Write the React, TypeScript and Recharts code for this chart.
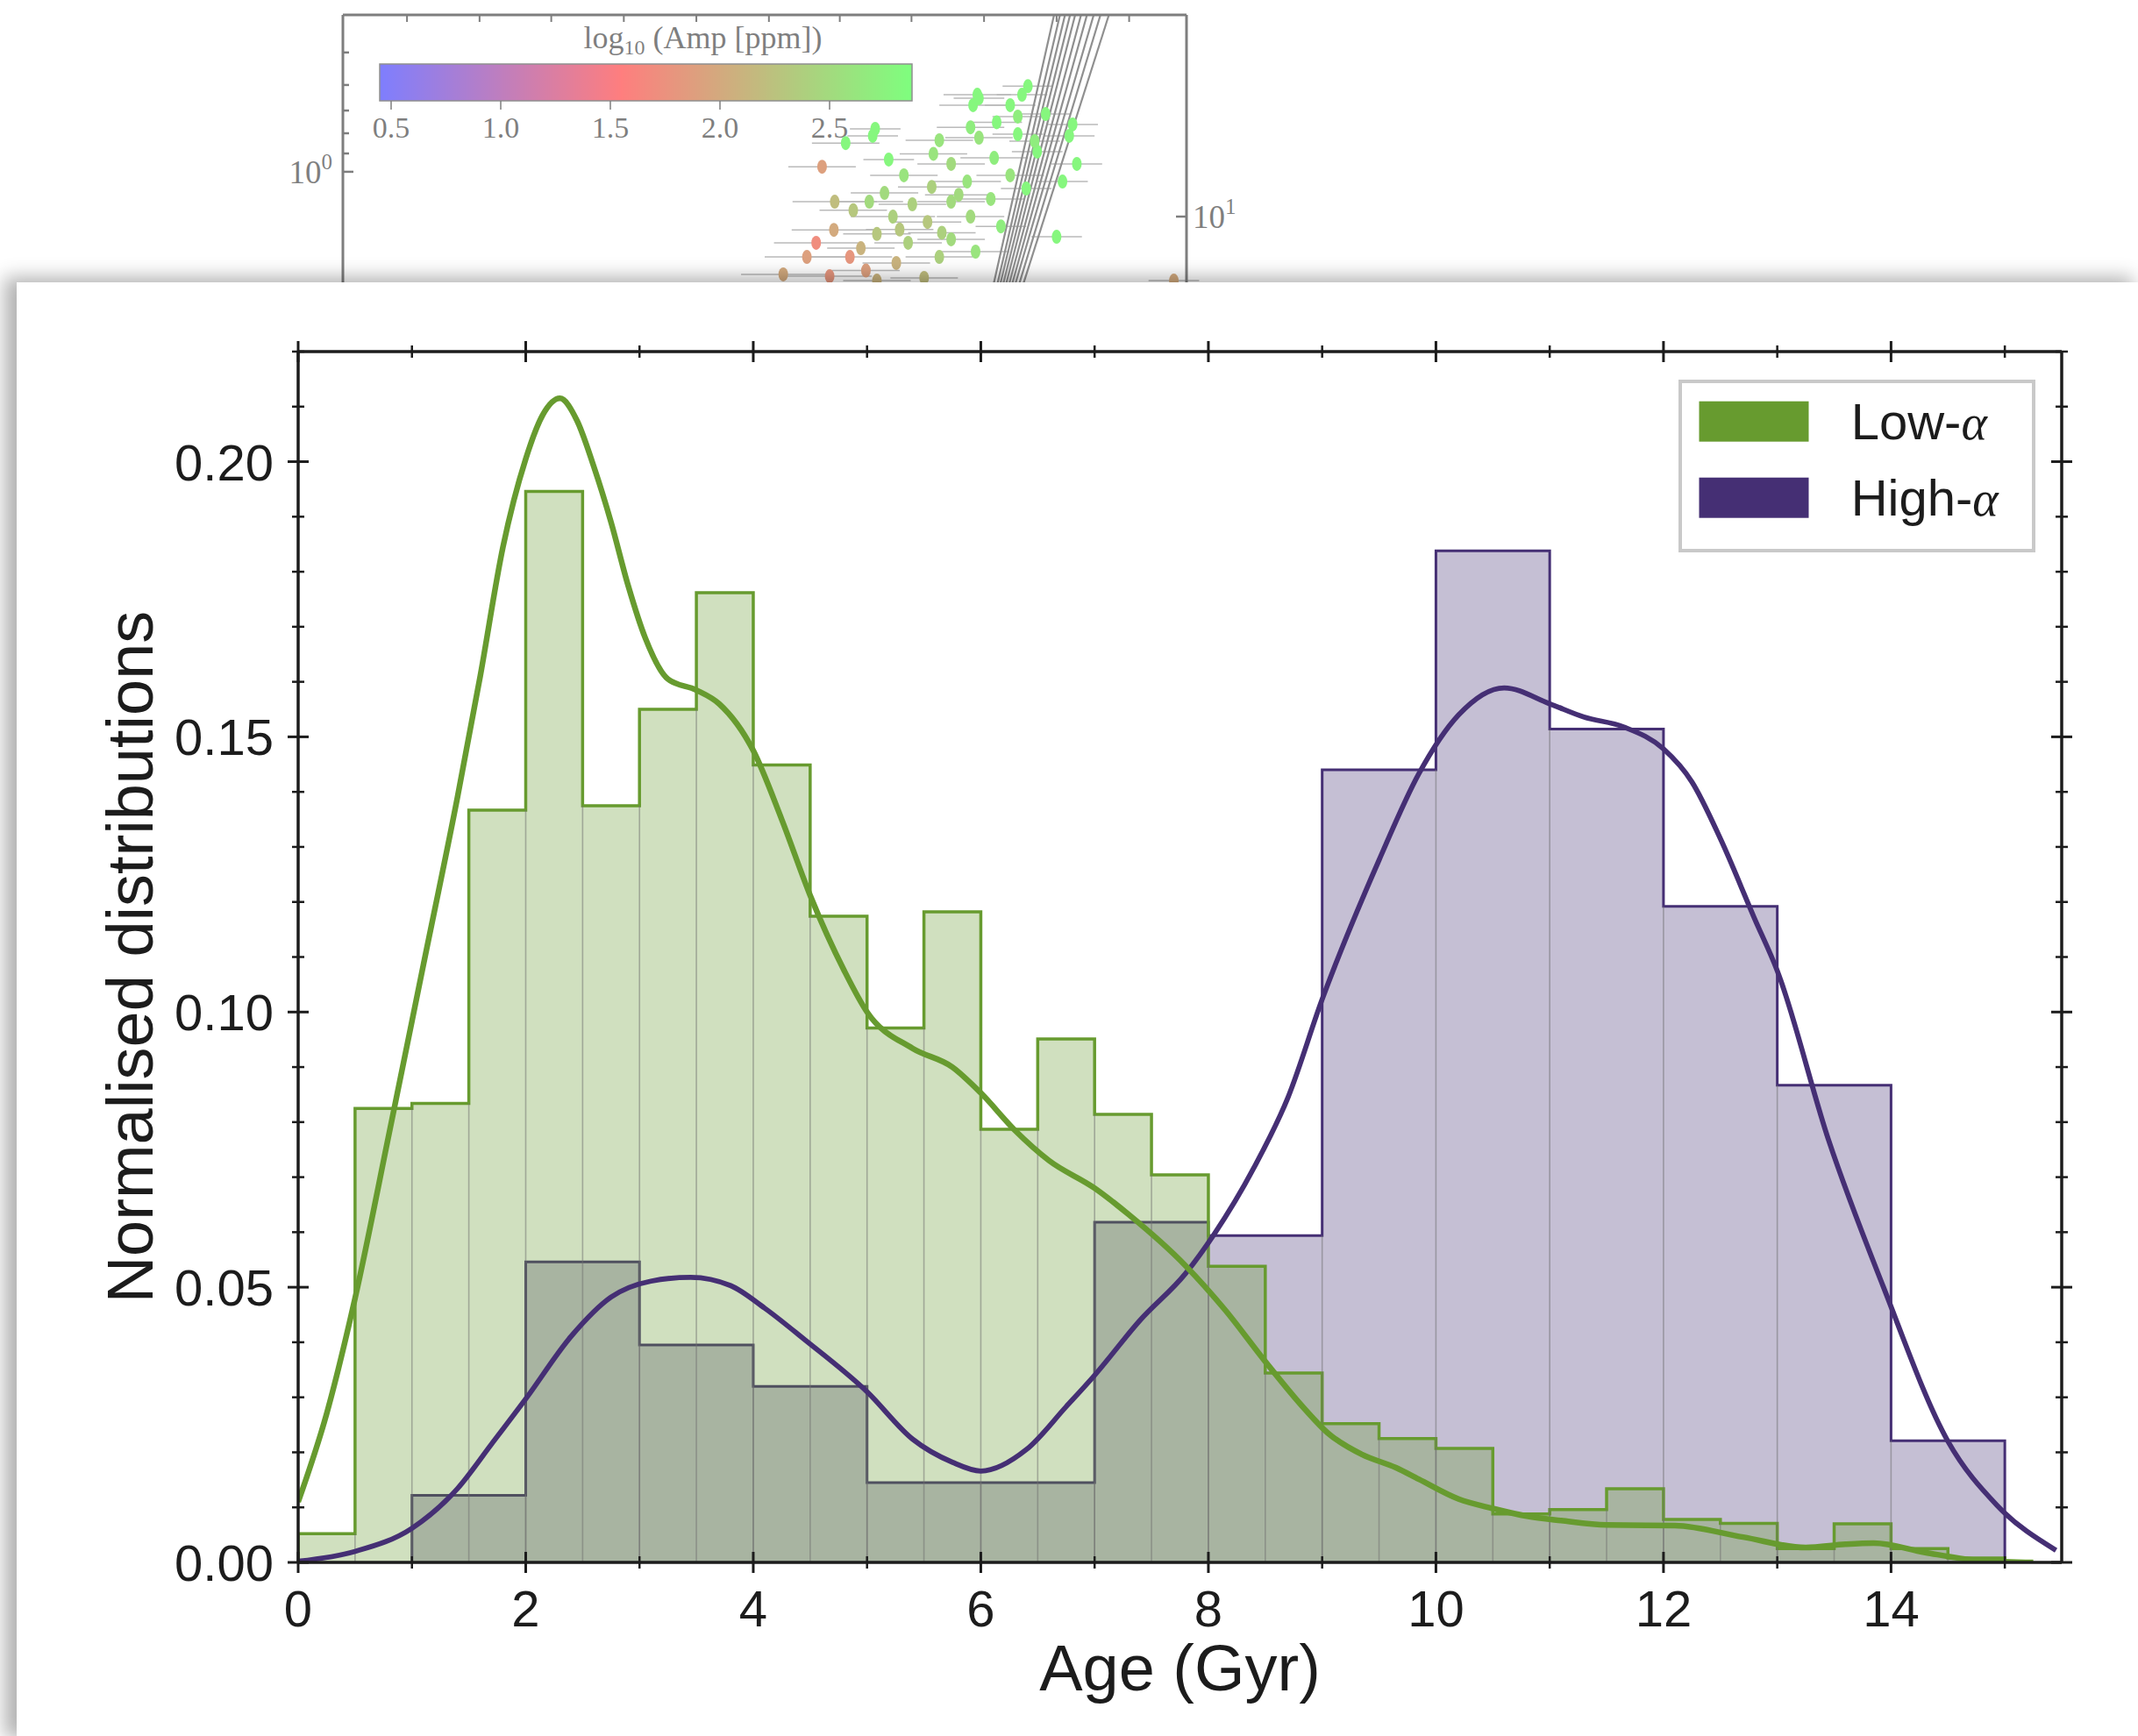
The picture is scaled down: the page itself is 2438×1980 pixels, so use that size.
import React from "react";
import {
  Area,
  ComposedChart,
  ErrorBar,
  Legend,
  Line,
  ReferenceArea,
  ReferenceLine,
  Scatter,
  XAxis,
  YAxis,
} from "recharts";

const SANS = '"Liberation Sans", Arial, Helvetica, sans-serif';
const SERIF = '"Liberation Serif", "DejaVu Serif", serif';
const GREEN = "#679b2f";
const PURPLE = "#452f74";
const INK = "#1c1c1c";

// ---------- main panel: age distributions ----------
const lowAlphaBinStart = 0;
const lowAlphaBinWidth = 0.5;
const lowAlphaHist = [
  0.0052, 0.0825, 0.0834, 0.1367, 0.1946, 0.1375, 0.155, 0.1762, 0.1449, 0.1174,
  0.0971, 0.1182, 0.0787, 0.0951, 0.0814, 0.0704, 0.0538, 0.0344, 0.0252, 0.0225,
  0.0207, 0.0088, 0.0096, 0.0134, 0.0078, 0.0071, 0.0025, 0.007, 0.0025, 0.0008,
];

const highAlphaBinStart = 1;
const highAlphaBinWidth = 1;
const highAlphaHist = [
  0.0122, 0.0546, 0.0395, 0.032, 0.0145, 0.0145, 0.0618, 0.0594, 0.144, 0.1838,
  0.1514, 0.1192, 0.0867, 0.0221,
];

// kernel density curves, [age, density]
const lowAlphaKde: [number, number][] = [
  [0, 0.011], [0.25, 0.027], [0.5, 0.048], [0.8, 0.078], [1.1, 0.1085], [1.4, 0.139],
  [1.6, 0.161], [1.8, 0.1845], [2.0, 0.2005], [2.15, 0.2085], [2.3, 0.2115], [2.45, 0.2075],
  [2.6, 0.199], [2.75, 0.189], [2.9, 0.1775], [3.05, 0.168], [3.25, 0.1605], [3.5, 0.1585],
  [3.7, 0.156], [4.0, 0.1475], [4.25, 0.135], [4.5, 0.1212], [4.8, 0.1075], [5.0, 0.1],
  [5.4, 0.0934], [5.75, 0.09], [6.0, 0.0853], [6.3, 0.0785], [6.6, 0.073], [7.0, 0.068],
  [7.3, 0.0632], [7.8, 0.0539], [8.15, 0.0458], [8.5, 0.0365], [8.85, 0.0278], [9.05, 0.0235],
  [9.35, 0.0196], [9.65, 0.0172], [9.85, 0.0151], [10.2, 0.0115], [10.5, 0.0098], [10.8, 0.0084],
  [11.1, 0.0076], [11.5, 0.0068], [12.1, 0.0067], [12.7, 0.0046], [13.25, 0.0027], [13.6, 0.0033],
  [13.85, 0.0035], [14.3, 0.0018], [14.75, 0.0004], [15.25, 0.0],
];

const highAlphaKde: [number, number][] = [
  [0, 0.0002], [0.5, 0.002], [1.0, 0.0062], [1.4, 0.0134], [1.7, 0.0215], [2.0, 0.0297],
  [2.4, 0.0411], [2.75, 0.0482], [3.1, 0.0511], [3.45, 0.0518], [3.8, 0.0503], [4.1, 0.0462],
  [4.45, 0.0405], [5.0, 0.031], [5.4, 0.0224], [5.75, 0.0182], [6.0, 0.0166], [6.4, 0.0205],
  [6.75, 0.0283], [7.0, 0.034], [7.4, 0.044], [7.8, 0.0525], [8.05, 0.0596], [8.4, 0.0717],
  [8.7, 0.0845], [9.0, 0.1023], [9.5, 0.1276], [9.85, 0.1433], [10.2, 0.154], [10.6, 0.1589],
  [11.0, 0.156], [11.3, 0.1536], [11.65, 0.1518], [12.0, 0.1478], [12.25, 0.1418], [12.5, 0.1315],
  [12.8, 0.117], [13.0, 0.1075], [13.45, 0.0768], [13.93, 0.0502], [14.5, 0.022], [14.93, 0.0104],
  [15.45, 0.0022],
];

const ageTicks = [0, 1, 2, 3, 4, 5, 6, 7, 8, 9, 10, 11, 12, 13, 14, 15];
const densityTicks = [
  0, 0.01, 0.02, 0.03, 0.04, 0.05, 0.06, 0.07, 0.08, 0.09, 0.1, 0.11,
  0.12, 0.13, 0.14, 0.15, 0.16, 0.17, 0.18, 0.19, 0.2, 0.21, 0.22,
];
const legendNames = ["Low-", "High-"];
const legendColors = [GREEN, PURPLE];

// ---------- background figure fragment (mostly hidden by the card) ----------
const ampTicks = [0.5, 1.0, 1.5, 2.0, 2.5];
const ampStops = [0.448, 1.55, 2.876];
const ampRgb = [
  [0, 0, 255],
  [255, 0, 0],
  [0, 255, 0],
];
const fragTopTicks = [7.6, 16.2, 24.7, 33.3, 41.9, 50.5, 58.9, 67.4, 76.0, 84.6, 93.2];
const fragLeftTicks = [50.3, 56.1, 62.5, 69.7, 77.8, 88.1];
const fragRightTicks = [36.1];
// [x, y, x-error, log10 amp]
const fragStars: [number, number, number, number][] = [
  [81.2, 77.4, 3, 2.8], [75.2, 74.7, 4, 2.8], [80.5, 74.7, 3, 2.8], [74.7, 71.4, 4, 2.8],
  [79.1, 71.4, 3, 2.8], [83.3, 68.6, 3, 2.8], [80.0, 67.8, 3, 2.7], [86.5, 65.3, 3, 2.8],
  [63.1, 63.9, 3, 2.8], [74.4, 64.4, 4, 2.7], [59.6, 59.4, 4, 2.8], [75.4, 61.1, 4, 2.6],
  [80.0, 62.2, 3, 2.8], [86.1, 61.7, 3, 2.8], [70.7, 60.3, 4, 2.6], [64.7, 54.2, 3, 2.8],
  [56.8, 51.9, 4, 1.9], [87.0, 52.8, 3, 2.8], [66.5, 49.2, 4, 2.6], [72.1, 52.8, 4, 2.5],
  [77.2, 54.7, 4, 2.7], [82.3, 56.7, 3, 2.8], [79.1, 49.2, 4, 2.6], [85.3, 47.2, 3, 2.8],
  [64.2, 43.6, 4, 2.5], [69.8, 45.5, 4, 2.4], [74.0, 47.2, 4, 2.6], [58.3, 40.8, 5, 2.2],
  [62.4, 40.8, 4, 2.5], [67.5, 40.0, 4, 2.4], [72.1, 40.8, 4, 2.5], [76.8, 41.7, 4, 2.6],
  [60.5, 38.1, 4, 2.3], [65.2, 36.1, 5, 2.4], [69.3, 34.4, 4, 2.3], [74.4, 36.1, 4, 2.5],
  [58.2, 31.9, 5, 2.0], [63.3, 30.6, 4, 2.3], [56.1, 27.8, 5, 1.7], [61.4, 26.1, 4, 2.1],
  [67.0, 27.8, 4, 2.4], [72.1, 28.9, 4, 2.5], [55.0, 23.3, 5, 1.9], [60.1, 23.3, 5, 1.8],
  [65.6, 21.4, 4, 2.1], [70.7, 23.3, 4, 2.4], [84.6, 29.7, 3, 2.8], [52.2, 17.8, 5, 2.0],
  [57.7, 17.2, 5, 1.8], [63.3, 15.8, 4, 2.1], [68.9, 16.7, 4, 2.2], [98.5, 15.8, 3, 2.0],
  [62.8, 61.7, 3, 2.8], [75.4, 73.6, 3, 2.8], [77.5, 66.0, 3, 2.8], [82.0, 60.0, 3, 2.7],
  [70.0, 56.0, 4, 2.6], [73.0, 43.0, 4, 2.5], [66.0, 32.0, 4, 2.3], [71.0, 31.0, 4, 2.4],
  [62.0, 19.0, 4, 1.9], [75.0, 25.0, 4, 2.6], [78.0, 33.0, 3, 2.7], [81.0, 45.0, 3, 2.8],
];
// grey model tracks: x at top edge, x at bottom edge
const fragTracks: [number, number][] = [
  [84.3, 75.9], [85.0, 76.3], [85.6, 76.6], [86.2, 76.9], [86.8, 77.2],
  [87.5, 77.5], [88.2, 77.8], [89.0, 78.1], [89.8, 78.5], [90.8, 78.9],
];

// ---------- layout ----------
const CARD_LEFT = 19;
const CARD_TOP = 322;
const CHART_W = 2419;
const CHART_H = 1658;
// plot rectangle inside the card
const PLOT_LEFT = 321;
const PLOT_TOP = 79;
const PLOT_W = 2011;
const PLOT_H = 1381;
// axes get 1px of room each (recharts skips an axis of size 0)
const M = {
  top: PLOT_TOP - 1,
  left: PLOT_LEFT - 1,
  right: CHART_W - PLOT_LEFT - PLOT_W - 1,
  bottom: CHART_H - PLOT_TOP - PLOT_H - 1,
};

const isMajorAge = (v: number) => Math.abs(v / 2 - Math.round(v / 2)) < 1e-6;
const isMajorDensity = (v: number) => Math.abs(v * 20 - Math.round(v * 20)) < 1e-6;

function stepSeries(start: number, width: number, heights: number[]) {
  return [
    { x: start, v: 0 },
    ...heights.map((h, i) => ({ x: start + i * width, v: h })),
    { x: start + heights.length * width, v: 0 },
  ];
}

function innerEdges(start: number, width: number, heights: number[]) {
  const out: { x: number; top: number }[] = [];
  for (let i = 1; i < heights.length; i++) {
    out.push({ x: start + i * width, top: Math.min(heights[i - 1], heights[i]) });
  }
  return out;
}

function ampColor(a: number) {
  let i = 0;
  while (i < ampStops.length - 2 && a > ampStops[i + 1]) i++;
  const t = Math.max(0, Math.min(1, (a - ampStops[i]) / (ampStops[i + 1] - ampStops[i])));
  const c = ampRgb[i].map((c0, k) => Math.round(c0 + (ampRgb[i + 1][k] - c0) * t));
  return `rgb(${c.join(",")})`;
}

const lowStep = stepSeries(lowAlphaBinStart, lowAlphaBinWidth, lowAlphaHist);
const highStep = stepSeries(highAlphaBinStart, highAlphaBinWidth, highAlphaHist);
const lowEdges = innerEdges(lowAlphaBinStart, lowAlphaBinWidth, lowAlphaHist);
const highEdges = innerEdges(highAlphaBinStart, highAlphaBinWidth, highAlphaHist);
const lowCurve = lowAlphaKde.map(([x, v]) => ({ x, v }));
const highCurve = highAlphaKde.map(([x, v]) => ({ x, v }));

// ---------- tick renderers (ticks cross the spines, matplotlib "inout") ----------
function BottomAgeTick(props: any) {
  const { x, y, payload } = props;
  const v = payload.value as number;
  const major = isMajorAge(v);
  const l = major ? 12 : 7;
  return (
    <g>
      <line x1={x} x2={x} y1={y - l} y2={y + l} stroke={INK} strokeWidth={major ? 3 : 2.5} />
      {major && (
        <text x={x} y={y + 73} textAnchor="middle" fontFamily={SANS} fontSize={58} fill={INK}>
          {`${v}`}
        </text>
      )}
    </g>
  );
}

function TopAgeTick(props: any) {
  const { x, y, payload } = props;
  const major = isMajorAge(payload.value);
  const l = major ? 12 : 7;
  return <line x1={x} x2={x} y1={y - l} y2={y + l} stroke={INK} strokeWidth={major ? 3 : 2.5} />;
}

function LeftDensityTick(props: any) {
  const { x, y, payload } = props;
  const v = payload.value as number;
  const major = isMajorDensity(v);
  const l = major ? 12 : 7;
  return (
    <g>
      <line x1={x - l} x2={x + l} y1={y} y2={y} stroke={INK} strokeWidth={major ? 3 : 2.5} />
      {major && (
        <text x={x - 28} y={y + 21} textAnchor="end" fontFamily={SANS} fontSize={58} fill={INK}>
          {v.toFixed(2)}
        </text>
      )}
    </g>
  );
}

function RightDensityTick(props: any) {
  const { x, y, payload } = props;
  const major = isMajorDensity(payload.value);
  const l = major ? 12 : 7;
  return <line x1={x - l} x2={x + l} y1={y} y2={y} stroke={INK} strokeWidth={major ? 3 : 2.5} />;
}

function LegendBox() {
  return (
    <svg width={407} height={197} style={{ display: "block" }}>
      <rect x={2} y={2} width={403} height={193} fill="#fff" stroke="#c9c9c9" strokeWidth={4} />
      {legendNames.map((name, i) => (
        <g key={name}>
          <rect x={23.5} y={24.7 + i * 87} width={125} height={46} fill={legendColors[i]} />
          <text x={196.7} y={68.4 + i * 87} fontFamily={SANS} fontSize={58} fill={INK}>
            {name}
            <tspan fontFamily={SERIF} fontStyle="italic" fontSize={56}>
              α
            </tspan>
          </text>
        </g>
      ))}
    </svg>
  );
}

const axisLine = { stroke: INK, strokeWidth: 3.5 };

function AgeChart() {
  return (
    <ComposedChart width={CHART_W} height={CHART_H} margin={M}>
      <XAxis
        xAxisId={0}
        type="number"
        dataKey="x"
        domain={[0, 15.5]}
        allowDataOverflow
        ticks={ageTicks}
        interval={0}
        height={1}
        tickSize={0}
        tickMargin={0}
        tickLine={false}
        axisLine={axisLine}
        tick={BottomAgeTick}
        label={() => (
          <text
            x={PLOT_LEFT + PLOT_W / 2}
            y={PLOT_TOP + PLOT_H + 146}
            textAnchor="middle"
            fontFamily={SANS}
            fontSize={74}
            fill={INK}
          >
            Age (Gyr)
          </text>
        )}
      />
      <XAxis
        xAxisId="top"
        orientation="top"
        type="number"
        dataKey="x"
        domain={[0, 15.5]}
        allowDataOverflow
        ticks={ageTicks}
        interval={0}
        height={1}
        tickSize={0}
        tickMargin={0}
        tickLine={false}
        axisLine={axisLine}
        tick={TopAgeTick}
      />
      <YAxis
        yAxisId={0}
        type="number"
        domain={[0, 0.22]}
        allowDataOverflow
        ticks={densityTicks}
        interval={0}
        width={1}
        tickSize={0}
        tickMargin={0}
        tickLine={false}
        axisLine={axisLine}
        tick={LeftDensityTick}
        label={() => (
          <text
            x={PLOT_LEFT - 166}
            y={PLOT_TOP + PLOT_H / 2}
            transform={`rotate(-90, ${PLOT_LEFT - 166}, ${PLOT_TOP + PLOT_H / 2})`}
            textAnchor="middle"
            fontFamily={SANS}
            fontSize={74}
            fill={INK}
          >
            Normalised distributions
          </text>
        )}
      />
      <YAxis
        yAxisId="right"
        orientation="right"
        type="number"
        domain={[0, 0.22]}
        allowDataOverflow
        ticks={densityTicks}
        interval={0}
        width={1}
        tickSize={0}
        tickMargin={0}
        tickLine={false}
        axisLine={axisLine}
        tick={RightDensityTick}
      />

      <Area
        data={highStep}
        dataKey="v"
        type="stepAfter"
        stroke={PURPLE}
        strokeWidth={3}
        fill={PURPLE}
        fillOpacity={0.31}
        dot={false}
        activeDot={false}
        isAnimationActive={false}
      />
      <Area
        data={lowStep}
        dataKey="v"
        type="stepAfter"
        stroke={GREEN}
        strokeWidth={3.5}
        fill={GREEN}
        fillOpacity={0.31}
        dot={false}
        activeDot={false}
        isAnimationActive={false}
      />
      {[...highEdges, ...lowEdges].map((e, i) => (
        <ReferenceLine
          key={`edge-${i}`}
          segment={[
            { x: e.x, y: 0 },
            { x: e.x, y: e.top },
          ]}
          stroke="#6f6f6f"
          strokeOpacity={0.5}
          strokeWidth={1.6}
        />
      ))}
      <Line
        data={highCurve}
        dataKey="v"
        type="monotone"
        stroke={PURPLE}
        strokeWidth={5.8}
        dot={false}
        activeDot={false}
        isAnimationActive={false}
      />
      <Line
        data={lowCurve}
        dataKey="v"
        type="monotone"
        stroke={GREEN}
        strokeWidth={6.5}
        dot={false}
        activeDot={false}
        isAnimationActive={false}
      />
      <Line
        xAxisId="top"
        yAxisId="right"
        data={lowCurve}
        dataKey="v"
        stroke="none"
        dot={false}
        activeDot={false}
        legendType="none"
        isAnimationActive={false}
      />
      <Legend
        layout="horizontal"
        align="center"
        verticalAlign="middle"
        content={() => <LegendBox />}
        wrapperStyle={{ left: 1895, top: 111, width: 407, height: 197, lineHeight: 0 }}
      />
    </ComposedChart>
  );
}

// ---------- background fragment ----------
const stars = fragStars.map(([x, y, ex, amp]) => ({ x, y, ex, amp }));
const FM = { top: 9, right: 69, bottom: 10, left: 79 };

function FragTopTick(props: any) {
  const { x, y } = props;
  return <line x1={x} x2={x} y1={y} y2={y + 8} stroke="#000" strokeWidth={2} />;
}

function FragLeftTick(props: any) {
  const { x, y, payload } = props;
  const major = payload.value === fragLeftTicks[0];
  return (
    <g>
      <line x1={x} x2={x + (major ? 12 : 7)} y1={y} y2={y} stroke="#000" strokeWidth={2.5} />
      {major && (
        <text x={x - 12} y={y + 13} textAnchor="end" fontFamily={SERIF} fontSize={37} fill="#000">
          10
          <tspan dy={-16} fontSize={25}>
            0
          </tspan>
        </text>
      )}
    </g>
  );
}

function FragRightTick(props: any) {
  const { x, y } = props;
  return (
    <g>
      <line x1={x - 12} x2={x} y1={y} y2={y} stroke="#000" strokeWidth={2.5} />
      <text x={x + 7} y={y + 13} fontFamily={SERIF} fontSize={37} fill="#000">
        10
        <tspan dy={-16} fontSize={25}>
          1
        </tspan>
      </text>
    </g>
  );
}

function StarDot(props: any) {
  const { cx, cy, payload } = props;
  return <ellipse cx={cx} cy={cy} rx={5.5} ry={8} fill={ampColor(payload.amp)} />;
}

function AmpTick(props: any) {
  const { x, y, payload } = props;
  return (
    <g>
      <line x1={x} x2={x} y1={y} y2={y + 10} stroke="#000" strokeWidth={1.5} />
      <text x={x} y={y + 42} textAnchor="middle" fontFamily={SERIF} fontSize={34} fill="#000">
        {payload.value.toFixed(1)}
      </text>
    </g>
  );
}

const CB_TOP = 63;

function Colorbar() {
  return (
    <ComposedChart width={647} height={182} margin={{ top: CB_TOP, right: 20, bottom: 76, left: 20 }}>
      <XAxis
        type="number"
        dataKey="a"
        domain={[ampStops[0], ampStops[2]]}
        allowDataOverflow
        ticks={ampTicks}
        interval={0}
        height={1}
        tickSize={0}
        tickMargin={0}
        tickLine={false}
        axisLine={false}
        tick={AmpTick}
      />
      <YAxis type="number" domain={[0, 1]} hide />
      <ReferenceArea
        x1={ampStops[0]}
        x2={ampStops[2]}
        y1={0}
        y2={1}
        fill="url(#ampGradient)"
        fillOpacity={1}
        stroke="#222"
        strokeWidth={1.5}
        label={() => (
          <text x={20 + 607 / 2 + 65} y={CB_TOP - 18} textAnchor="middle" fontFamily={SERIF} fontSize={36} fill="#000">
            log
            <tspan dy={7} fontSize={24}>
              10
            </tspan>
            <tspan dy={-7}> (Amp [ppm])</tspan>
          </text>
        )}
      />
      <Line
        data={ampTicks.map((a) => ({ a, y: 0.5 }))}
        dataKey="y"
        stroke="none"
        dot={false}
        activeDot={false}
        isAnimationActive={false}
      />
    </ComposedChart>
  );
}

function Fragment() {
  return (
    <ComposedChart width={962 + FM.left + FM.right + 2} height={360 + FM.top + FM.bottom + 1} margin={FM}>
      <XAxis
        xAxisId="fx"
        orientation="top"
        type="number"
        dataKey="x"
        domain={[0, 100]}
        allowDataOverflow
        ticks={fragTopTicks}
        interval={0}
        height={1}
        tickSize={0}
        tickMargin={0}
        tickLine={false}
        axisLine={{ stroke: "#000", strokeWidth: 3 }}
        tick={FragTopTick}
      />
      <YAxis
        yAxisId="fy"
        type="number"
        domain={[0, 100]}
        allowDataOverflow
        ticks={fragLeftTicks}
        interval={0}
        width={1}
        tickSize={0}
        tickMargin={0}
        tickLine={false}
        axisLine={{ stroke: "#000", strokeWidth: 3 }}
        tick={FragLeftTick}
      />
      <YAxis
        yAxisId="fyr"
        orientation="right"
        type="number"
        domain={[0, 100]}
        allowDataOverflow
        ticks={fragRightTicks}
        interval={0}
        width={1}
        tickSize={0}
        tickMargin={0}
        tickLine={false}
        axisLine={{ stroke: "#000", strokeWidth: 3 }}
        tick={FragRightTick}
      />
      <Scatter
        xAxisId="fx"
        yAxisId="fy"
        data={stars}
        dataKey="y"
        shape={StarDot}
        isAnimationActive={false}
      >
        <ErrorBar dataKey="ex" direction="x" width={0} stroke="#777" strokeWidth={1.5} />
      </Scatter>
      {fragTracks.map(([top, bottom], i) => (
        <ReferenceLine
          key={`track-${i}`}
          xAxisId="fx"
          yAxisId="fy"
          segment={[
            { x: bottom, y: 0 },
            { x: top, y: 100 },
          ]}
          stroke="#222"
          strokeWidth={2.2}
        />
      ))}
      <Line
        xAxisId="fx"
        yAxisId="fyr"
        data={stars}
        dataKey="y"
        stroke="none"
        dot={false}
        activeDot={false}
        isAnimationActive={false}
      />
    </ComposedChart>
  );
}

export default function App() {
  const span = ampStops[2] - ampStops[0];
  return (
    <div
      style={{
        position: "absolute",
        left: 0,
        top: 0,
        width: 2438,
        height: 1980,
        overflow: "hidden",
        background: "#fff",
      }}
    >
      <svg width={0} height={0} style={{ position: "absolute" }}>
        <defs>
          <linearGradient id="ampGradient" x1="0" y1="0" x2="1" y2="0">
            {ampStops.map((s, i) => (
              <stop key={s} offset={(s - ampStops[0]) / span} stopColor={`rgb(${ampRgb[i].join(",")})`} />
            ))}
          </linearGradient>
        </defs>
      </svg>

      <div style={{ position: "absolute", left: 0, top: 0, opacity: 0.5 }}>
        <div style={{ position: "absolute", left: 413, top: 73 - CB_TOP }}>
          <Colorbar />
        </div>
        <div style={{ position: "absolute", left: 391 - FM.left - 1, top: 17 - FM.top - 1 }}>
          <Fragment />
        </div>
      </div>

      <div
        style={{
          position: "absolute",
          left: CARD_LEFT,
          top: CARD_TOP,
          width: 2438 - CARD_LEFT,
          height: 1980 - CARD_TOP,
          background: "#fff",
          boxShadow: "-10px -2px 20px 4px rgba(0,0,0,0.3)",
        }}
      >
        <AgeChart />
      </div>
    </div>
  );
}
